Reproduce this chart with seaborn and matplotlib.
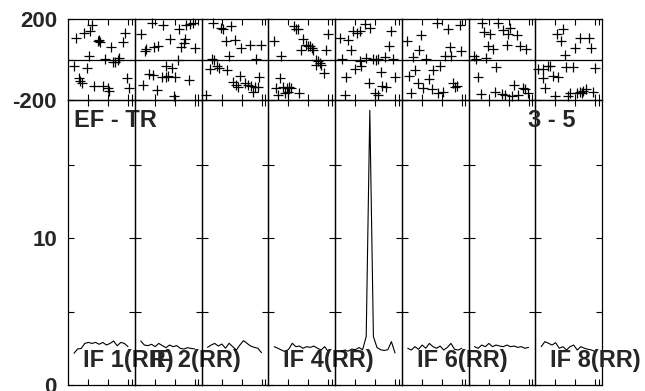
import matplotlib
matplotlib.use('Agg')
import matplotlib.pyplot as plt
import seaborn as sns

# channels per IF and panel labels
channels = list(range(1, 17))
if_labels = ['IF 1(RR)', 'IF 2(RR)', 'IF 3(RR)', 'IF 4(RR)',
             'IF 5(RR)', 'IF 6(RR)', 'IF 7(RR)', 'IF 8(RR)']
shown_labels = [0, 1, 3, 5, 7]
baseline_label = 'EF - TR'
time_label = '3 - 5'

# amplitude per channel, one list per IF
amp_if1 = [2.16, 2.45, 2.49, 2.83, 2.90, 2.83, 2.90, 2.77, 2.90, 2.72, 2.83, 2.99, 2.67, 2.90, 2.83, 2.61]
amp_if2 = [3.00, 2.72, 2.68, 2.77, 2.61, 2.83, 2.68, 2.54, 2.72, 2.61, 2.68, 2.49, 2.45, 2.54, 2.49, 2.45]
amp_if3 = [2.56, 2.72, 2.83, 2.65, 2.79, 2.50, 2.84, 2.61, 2.38, 2.72, 3.02, 2.83, 2.65, 2.56, 2.50, 2.20]
amp_if4 = [2.61, 2.50, 2.38, 2.27, 2.43, 2.84, 2.61, 2.65, 2.50, 2.61, 2.56, 2.65, 2.50, 2.38, 2.61, 2.27]
amp_if5 = [2.27, 2.38, 2.30, 2.45, 2.40, 2.55, 2.40, 3.30, 18.7, 3.30, 2.55, 2.40, 2.35, 2.40, 2.95, 2.18]
amp_if6 = [2.50, 2.38, 2.61, 2.43, 2.72, 2.50, 2.83, 2.61, 2.50, 2.65, 2.38, 2.56, 2.83, 2.43, 2.38, 2.50]
amp_if7 = [2.61, 2.50, 2.72, 2.61, 2.83, 2.61, 2.72, 2.65, 2.61, 2.72, 2.61, 2.65, 2.56, 2.61, 2.50, 2.56]
amp_if8 = [2.61, 2.95, 2.84, 2.72, 2.88, 2.50, 2.61, 2.38, 2.61, 2.72, 2.38, 2.61, 2.50, 2.43, 2.38, 2.27]

# phase points (channel, degrees), one pair of lists per IF
ph_ch_if1 = [6.0, 5.4, 3.9, 1.6, 15.3, 14.7, 7.9, 7.6, 8.2, 11.3, 5.1, 9.7, 11.7, 12.5, 13.1, 13.6,
             1.1, 4.5, 2.5, 2.7, 3.2, 6.6, 9.0, 10.4, 10.6, 15.6, 16.2]
ph_deg_if1 = [168, 140, 129, 107, 129, 85, 95, 90, 87, 62, 19, 2, -14, -14, 0, 7,
              -31, -42, -92, -104, -114, -129, -130, -142, -154, -92, -142]
ph_ch_if2 = [4.1, 7.3, 11.7, 13.6, 14.7, 15.4, 1.1, 9.0, 13.4, 12.9, 12.2, 5.7, 4.8, 2.5, 2.3,
             16.2, 11.3, 7.9, 9.7, 8.5, 3.4, 4.3, 6.9, 8.0, 10.4, 14.5, 1.6, 5.4, 10.1]
ph_deg_if2 = [178, 168, 152, 168, 175, 178, 124, 102, 102, 82, 62, 69, 62, 54, 41,
              57, -1, -31, -42, -81, -72, -76, -84, -87, -87, -100, -125, -150, -178]
ph_ch_if3 = [2.5, 4.8, 5.3, 7.6, 6.0, 8.5, 10.4, 12.7, 15.9, 7.1, 14.5, 2.3, 2.9, 1.6, 3.6,
             4.1, 6.4, 9.9, 8.0, 8.8, 11.3, 12.2, 13.1, 14.1, 15.0, 15.4, 9.4, 0.6, 13.6]
ph_deg_if3 = [182, 157, 149, 165, 90, 95, 57, 74, 74, 19, 2, 2, -1, -47, -31,
              -42, -51, -81, -109, -125, -117, -125, -130, -134, -137, -84, -134, -175, -159]
ph_ch_if4 = [6.6, 7.1, 7.6, 15.9, 0.8, 9.1, 9.7, 10.4, 10.8, 11.6, 8.5, 11.7, 15.4, 2.9, 12.7,
             13.1, 13.6, 12.5, 14.1, 14.7, 2.5, 1.6, 3.4, 4.5, 5.1, 5.7, 4.8, 4.1, 8.0, 2.0]
ph_deg_if4 = [165, 152, 149, 124, 90, 102, 74, 66, 69, 57, 46, 46, 46, 16, -1,
              -9, -17, -26, -26, -67, -92, -142, -134, -142, -137, -142, -159, -164, -164, -175]
ph_ch_if5 = [0.8, 2.9, 3.9, 4.3, 5.4, 6.2, 7.6, 9.1, 15.0, 14.3, 1.4, 6.2, 6.6, 4.8, 8.0,
             9.9, 10.6, 11.3, 13.1, 15.4, 2.5, 15.9, 12.2, 8.8, 12.5, 13.6, 10.4, 11.3, 2.0]
ph_deg_if5 = [107, 95, 49, 140, 132, 140, 173, 157, 140, 66, 2, -9, -31, -47, 7,
              2, -1, 2, 12, 2, -84, -84, -64, -117, -130, -137, -164, -175, -175]
ph_ch_if6 = [9.0, 12.2, 15.4, 4.8, 0.8, 4.1, 12.7, 15.9, 2.5, 6.2, 11.3, 13.1, 9.9,
             8.0, 2.9, 1.4, 6.9, 3.9, 5.3, 7.6, 9.4, 10.8, 2.0, 13.6, 14.7, 14.1]
ph_deg_if6 = [182, 152, 168, 119, 90, 49, 62, 41, 12, 2, 16, 16, -31,
              -54, -54, -81, -97, -117, -142, -147, -164, -159, -164, -117, -130, -137]
ph_ch_if7 = [3.2, 7.6, 8.8, 10.8, 3.6, 5.4, 10.4, 12.7, 4.8, 6.0, 9.9, 13.6, 15.4, 0.8,
             1.4, 4.3, 7.1, 2.0, 2.7, 6.6, 8.5, 9.4, 11.9, 13.1, 14.5, 15.0, 15.9, 11.3]
ph_deg_if7 = [178, 182, 145, 157, 135, 124, 124, 119, 69, 52, 74, 69, 52, 16,
              2, 7, -37, -87, -170, -159, -170, -175, -125, -175, -142, -147, -164, -180]
ph_ch_if8 = [7.1, 5.3, 6.6, 11.7, 14.3, 10.4, 14.9, 7.6, 0.2, 1.6, 2.9, 3.4, 8.0, 9.9,
             15.9, 4.3, 5.7, 1.4, 2.0, 4.8, 8.5, 9.1, 10.8, 11.7, 12.7, 13.4, 15.3, 12.2]
ph_deg_if8 = [152, 124, 90, 107, 107, 57, 57, 24, -47, -47, -34, -31, -37, -37,
              -42, -81, -87, -92, -142, -180, -180, -164, -164, -159, -154, -147, -159, -164]

amps = [amp_if1, amp_if2, amp_if3, amp_if4, amp_if5, amp_if6, amp_if7, amp_if8]
ph_ch = [ph_ch_if1, ph_ch_if2, ph_ch_if3, ph_ch_if4, ph_ch_if5, ph_ch_if6, ph_ch_if7, ph_ch_if8]
ph_deg = [ph_deg_if1, ph_deg_if2, ph_deg_if3, ph_deg_if4, ph_deg_if5, ph_deg_if6, ph_deg_if7, ph_deg_if8]

sns.set_style('white')
plt.rcParams['font.family'] = ['Liberation Sans', 'DejaVu Sans']
plt.rcParams['font.weight'] = 'bold'

fig, axs = plt.subplots(2, 8, figsize=(6.45, 3.91), dpi=100,
                        gridspec_kw={'height_ratios': [81, 285]})
fig.subplots_adjust(left=68/645, right=602/645, top=1-19/391, bottom=1-385/391,
                    wspace=0, hspace=0)

for i in range(8):
    top = axs[0, i]
    bot = axs[1, i]

    # phase panel
    sns.scatterplot(x=ph_ch[i], y=ph_deg[i], marker='+', s=55, color='black',
                    linewidth=0.9, ax=top, legend=False, clip_on=False)
    top.axhline(0, color='black', lw=0.9)
    top.set_ylim(-200, 200)
    top.set_yticks([-200, 0, 200])
    top.set_yticklabels(['-200', '', '200'])

    # amplitude panel
    sns.lineplot(x=channels, y=amps[i], color='black', linewidth=0.8, ax=bot, legend=False)
    bot.set_ylim(0, 19.4)
    bot.set_yticks([0, 5, 10, 15])
    bot.set_yticklabels(['0', '', '10', ''])

    for ax in (top, bot):
        ax.patch.set_visible(False)
        ax.set_xlim(-0.667, 17.875)
        ax.set_xticks([4.9, 10.45, 16, 17])
        ax.set_xlabel('')
        ax.set_ylabel('')
        ax.tick_params(direction='in', top=True, bottom=True, left=True, right=True,
                       length=4, width=0.8, color='black', labelbottom=False,
                       labelleft=(i == 0), labelsize=16, pad=8)
        for sp in ax.spines.values():
            sp.set_color('black')
            sp.set_linewidth(0.9)

    if i in shown_labels:
        bot.text(0.225, 0.062, if_labels[i], transform=bot.transAxes, fontsize=17,
                 fontweight='bold', va='baseline', ha='left', zorder=5)

for lab in axs[0, 0].get_yticklabels() + axs[1, 0].get_yticklabels():
    lab.set_fontweight('bold')

axs[1, 0].text(0.09, 0.905, baseline_label, transform=axs[1, 0].transAxes,
               fontsize=17, fontweight='bold', va='baseline', ha='left', zorder=5)
axs[1, 7].text(-0.105, 0.905, time_label, transform=axs[1, 7].transAxes,
               fontsize=17, fontweight='bold', va='baseline', ha='left', zorder=5)

fig.savefig('out.png', dpi=100)
